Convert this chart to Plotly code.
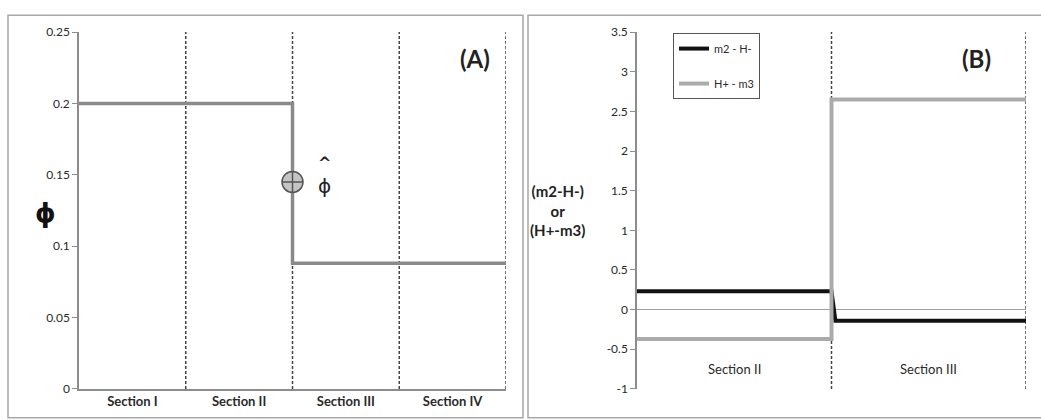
import plotly.graph_objects as go

# ---- panel (A): phi along the sections ----
sections_a = ["Section I", "Section II", "Section III", "Section IV"]
boundaries_a = [1, 2, 3, 4]
phi_x = [0, 2, 2, 4]
phi_y = [0.2, 0.2, 0.088, 0.088]
phi_hat_x = [2]
phi_hat_y = [0.145]
ticks_a = [0, 0.05, 0.1, 0.15, 0.2, 0.25]
ticktext_a = ["0", "0.05", "0.1", "0.15", "0.2", "0.25"]

# ---- panel (B): jump terms across the interface ----
sections_b = ["Section II", "Section III"]
boundaries_b = [1, 2]
m2_h_x = [0, 1, 1.02, 2]
m2_h_y = [0.23, 0.23, -0.14, -0.14]
hp_m3_x = [0, 1, 1, 2]
hp_m3_y = [-0.37, -0.37, 2.65, 2.65]
ticks_b = [-1, -0.5, 0, 0.5, 1, 1.5, 2, 2.5, 3, 3.5]
ticktext_b = ["-1", "-0.5", "0", "0.5", "1", "1.5", "2", "2.5", "3", "3.5"]

W, H = 1041, 420
FONT = "Lato, 'Open Sans', sans-serif"
AXIS_GREY = "#8c8c8c"
TEXT = "#2a2a2a"


def px(v):
    return v / W


def py(v):
    return 1 - v / H


fig = go.Figure()

fig.add_trace(go.Scatter(
    x=phi_x, y=phi_y, mode="lines", xaxis="x", yaxis="y",
    line=dict(color="#8a8a8a", width=3.5), showlegend=False,
))
fig.add_trace(go.Scatter(
    x=phi_hat_x, y=phi_hat_y, mode="markers", xaxis="x", yaxis="y",
    marker=dict(symbol="circle-cross", size=21, color="#c4c4c4",
                line=dict(color="#555555", width=1.5)),
    showlegend=False,
))

fig.add_trace(go.Scatter(
    x=m2_h_x, y=m2_h_y, mode="lines", xaxis="x2", yaxis="y2",
    name="m2 - H-", legendgroup="a",
    line=dict(color="#111111", width=4),
))
fig.add_trace(go.Scatter(
    x=hp_m3_x, y=hp_m3_y, mode="lines", xaxis="x2", yaxis="y2",
    name="H+ - m3", legendgroup="b",
    line=dict(color="#ababab", width=4),
))

shapes = []
# dashed section dividers
for b in boundaries_a:
    shapes.append(dict(type="line", xref="x", yref="y", x0=b, x1=b,
                       y0=ticks_a[0], y1=ticks_a[-1],
                       line=dict(color="#444444", width=1.5, dash="3px,2px"),
                       layer="below"))
for b in boundaries_b:
    shapes.append(dict(type="line", xref="x2", yref="y2", x0=b, x1=b,
                       y0=ticks_b[0], y1=ticks_b[-1],
                       line=dict(color="#444444", width=1.5, dash="3px,2px"),
                       layer="below"))
# panel frames
shapes.append(dict(type="rect", xref="paper", yref="paper",
                   x0=px(8), x1=px(523), y0=py(425), y1=py(7.5),
                   line=dict(color="#a8a8a8", width=1.5)))
shapes.append(dict(type="rect", xref="paper", yref="paper",
                   x0=px(528), x1=px(1050), y0=py(425), y1=py(7.5),
                   line=dict(color="#a8a8a8", width=1.5)))

annotations = [
    dict(text="<b>(A)</b>", x=px(475), y=py(35), xref="paper", yref="paper",
         showarrow=False, font=dict(size=24, color="#222222", family=FONT)),
    dict(text="<b>(B)</b>", x=px(993), y=py(35), xref="paper", yref="paper",
         showarrow=False, font=dict(size=24, color="#222222", family=FONT)),
    dict(text="<b>ϕ</b>", x=px(33), y=py(213), xref="paper", yref="paper",
         showarrow=False, font=dict(size=26, color="#111111", family="DejaVu Sans")),
    # hat and phi of the estimate label, stacked beside the marker
    dict(text="<b>^</b>", x=phi_hat_x[0], y=phi_hat_y[0], xref="x", yref="y",
         xshift=32, yshift=19, showarrow=False,
         font=dict(size=16, color="#222222", family="DejaVu Sans")),
    dict(text="ϕ", x=phi_hat_x[0], y=phi_hat_y[0], xref="x", yref="y",
         xshift=32, yshift=-4, showarrow=False,
         font=dict(size=20, color="#222222", family="DejaVu Sans")),
    dict(text="<b>(m2-H-)</b><br><b>or</b><br><b>(H+-m3)</b>",
         x=px(557), y=py(210), xref="paper", yref="paper", showarrow=False,
         align="center", font=dict(size=15, color="#222222", family=FONT)),
]
# category labels of panel (B) sit inside the plot area
for i, s in enumerate(sections_b):
    annotations.append(dict(text=s, x=i + 0.5, y=-0.75, xref="x2", yref="y2",
                            showarrow=False,
                            font=dict(size=13, color=TEXT, family=FONT)))

fig.update_layout(
    width=W, height=H,
    margin=dict(l=0, r=0, t=0, b=0),
    paper_bgcolor="white", plot_bgcolor="white",
    font=dict(family=FONT, color=TEXT, size=12),
    xaxis=dict(domain=[px(79), px(506)], range=[0, 4], anchor="y",
               tickvals=[i + 0.5 for i in range(len(sections_a))],
               ticktext=[f"<b>{s}</b>" for s in sections_a],
               tickfont=dict(size=13, color=TEXT),
               showgrid=False, zeroline=False, showline=True,
               linecolor=AXIS_GREY, linewidth=1.5, ticks=""),
    yaxis=dict(domain=[py(395), py(25)], range=[0, 0.25], anchor="x",
               tickvals=ticks_a, ticktext=ticktext_a,
               showgrid=False, zeroline=False, showline=True,
               linecolor=AXIS_GREY, linewidth=1.5,
               ticks="outside", ticklen=5, tickcolor=AXIS_GREY,
               tickfont=dict(size=12, color=TEXT)),
    xaxis2=dict(domain=[px(637), px(1026)], range=[0, 2], anchor="y2",
                showticklabels=False, showgrid=False, zeroline=False,
                showline=False, ticks=""),
    yaxis2=dict(domain=[py(395), py(25)], range=[-1, 3.5], anchor="x2",
                tickvals=ticks_b, ticktext=ticktext_b,
                showgrid=False, zeroline=True, zerolinecolor="#a0a0a0",
                zerolinewidth=1, showline=True,
                linecolor=AXIS_GREY, linewidth=1.5,
                ticks="outside", ticklen=5, tickcolor=AXIS_GREY,
                tickfont=dict(size=12, color=TEXT)),
    legend=dict(x=px(673), y=py(26), xanchor="left", yanchor="top",
                bgcolor="white", bordercolor="#555555", borderwidth=1,
                font=dict(size=11, color=TEXT, family=FONT),
                tracegroupgap=16, itemwidth=30),
    shapes=shapes,
    annotations=annotations,
)

fig.write_html("out.html")
